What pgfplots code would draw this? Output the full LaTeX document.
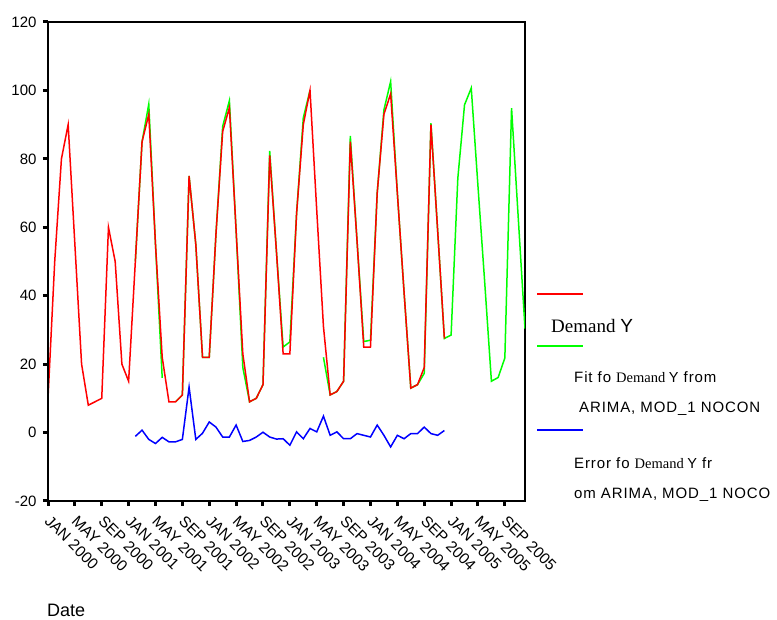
\documentclass[border=0pt]{standalone}
\usepackage{fontspec}
\setmainfont{Liberation Sans}
\newfontfamily\serifont{Liberation Serif}
\newfontfamily\trackfont[LetterSpace=6]{Liberation Sans}
\usepackage{pgfplots}
\pgfplotsset{compat=1.18}
\usepackage{pgfplotstable}

% actual demand, Jan 2000 = 0
\pgfplotstableread{
m v
0 10
1 50
2 80
3 90
4 55
5 20
6 8
7 9
8 10
9 60
10 50
11 20
12 15
13 50
14 85
15 93
16 55
17 22
18 9
19 9
20 11
21 75
22 55
23 22
24 22
25 58
26 88
27 95
28 59
29 23
30 9
31 10
32 14
33 81
34 53
35 23
36 23
37 64
38 90
39 100
40 65
41 31
42 11
43 12
44 15
45 85
46 56
47 25
48 25
49 70
50 93
51 99
52 70
53 41
54 13
55 14
56 19
57 90
58 59
59 27.5
}\demand

% fit and forecast
\pgfplotstableread{
m v
13 50
14 85
15 96
16 55
17 16
18 nan
19 9
20 11
21 75
22 55
23 22
24 22
25 58
26 89.5
27 97
28 59
29 19
30 9
31 10
32 14
33 82.3
34 53
35 25
36 26.5
37 64
38 92
39 100
40 nan
41 22
42 11
43 12
44 15
45 86.7
46 56
47 26.6
48 27
49 70
50 94.3
51 102.6
52 70
53 41
54 13
55 14
56 17.3
57 90.4
58 59
59 27.5
60 28.5
61 74.3
62 95.8
63 100.7
64 72
65 44
66 15
67 16.1
68 21.8
69 94.8
70 62.6
71 30.4
}\fit

% error
\pgfplotstableread{
m v
13 -1.1
14 0.7
15 -2
16 -3.2
17 -1.4
18 -2.7
19 -2.7
20 -2
21 13.3
22 -2
23 -0.2
24 3.1
25 1.6
26 -1.3
27 -1.3
28 2.2
29 -2.6
30 -2.3
31 -1.3
32 0.1
33 -1.3
34 -1.9
35 -1.8
36 -3.7
37 0.2
38 -1.8
39 1.2
40 0.2
41 4.8
42 -0.8
43 0.2
44 -1.8
45 -1.8
46 -0.3
47 -0.8
48 -1.3
49 2.2
50 -0.8
51 -4.2
52 -0.8
53 -1.8
54 -0.3
55 -0.3
56 1.6
57 -0.3
58 -0.8
59 0.6
}\err

\begin{document}
\begin{tikzpicture}
\useasboundingbox (0,0) rectangle (777pt,619pt);
\begin{axis}[
  at={(48pt,118pt)}, anchor=south west,
  scale only axis, width=477pt, height=479pt,
  xmin=0, xmax=71, ymin=-20, ymax=120,
  ytick={-20,0,...,120},
  xtick={0,4,...,68},
  xticklabels={JAN 2000,MAY 2000,SEP 2000,JAN 2001,MAY 2001,SEP 2001,JAN 2002,MAY 2002,SEP 2002,JAN 2003,MAY 2003,SEP 2003,JAN 2004,MAY 2004,SEP 2004,JAN 2005,MAY 2005,SEP 2005},
  x tick label style={rotate=-45, anchor=north west, font=\fontsize{15.5}{15.5}\selectfont, xshift=5pt},
  y tick label style={font=\fontsize{15}{15}\selectfont, xshift=-3pt},
  /pgf/number format/assume math mode=true,
  xtick pos=bottom, ytick pos=left,
  xtick align=outside, ytick align=outside,
  major tick length=5pt,
  every tick/.style={line width=3pt, black},
  axis line style={line width=1.2pt},
  unbounded coords=jump,
]
  \addplot[color=green, line width=1.5pt, mark=none] table[x=m, y=v] {\fit};
  \addplot[color=red, line width=1.5pt, mark=none] table[x=m, y=v] {\demand};
  \addplot[color=blue, line width=1.5pt, mark=none] table[x=m, y=v] {\err};
  \draw[line width=2.2pt] (rel axis cs:0,1) -- (rel axis cs:0,0) -- (rel axis cs:1,0);
\end{axis}

% legend
\draw[red, line width=1.5pt] (537pt,325pt) -- (583pt,325pt);
\node[anchor=west, inner sep=0pt] at (551pt,293pt) {\fontsize{19}{19}\selectfont\serifont Demand \rmfamily Y};
\draw[green, line width=1.5pt] (537pt,273pt) -- (583pt,273pt);
\node[anchor=west, inner sep=0pt] at (574pt,242pt) {\fontsize{15}{15}\selectfont\trackfont Fit fo {\fontsize{14.5}{15}\selectfont\serifont Demand \rmfamily Y} \trackfont from};
\node[anchor=west, inner sep=0pt] at (579pt,210pt) {\fontsize{15}{15}\selectfont\trackfont ARIMA, MOD\_1 NOCON};
\draw[blue, line width=1.5pt] (537pt,189pt) -- (583pt,189pt);
\node[anchor=west, inner sep=0pt] at (574pt,156pt) {\fontsize{15}{15}\selectfont\trackfont Error fo {\fontsize{14.5}{15}\selectfont\serifont Demand \rmfamily Y} \trackfont fr};
\node[anchor=west, inner sep=0pt] at (574pt,124pt) {\fontsize{15}{15}\selectfont\trackfont om ARIMA, MOD\_1 NOCO};

\node[anchor=west, inner sep=0pt] at (47pt,9pt) {\fontsize{18}{18}\selectfont Date};
\end{tikzpicture}
\end{document}
